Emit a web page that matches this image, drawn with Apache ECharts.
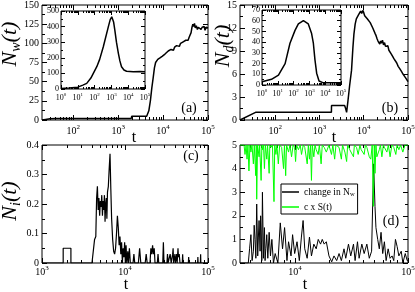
<!DOCTYPE html>
<html><head><meta charset="utf-8">
<script src="https://cdn.jsdelivr.net/npm/echarts@6/dist/echarts.min.js"></script>
<style>html,body{margin:0;padding:0;background:#fff}#c{width:415px;height:292px}</style>
</head><body><div id="c"></div>
<script>
// ---------------- data ----------------
const nwMain = [[20,0],[24,0.8],[30,1.5],[40,2],[100,2],[300,2],[1000,2],[1950,2],[2000,5],[3000,5],[4300,5],[4500,7],[4800,12],[5200,25],[5600,42],[6000,55],[6400,68],[6800,75],[7200,77],[7600,79],[8000,78],[8500,81],[9000,80],[9500,83],[10000,84],[10500,82],[11000,86],[11500,85],[12000,88],[13000,90],[14000,89],[15000,92],[16000,94],[17000,91],[18000,95],[19000,94],[20000,97],[21500,98],[23000,96],[24500,100],[26000,99],[28000,102],[30000,101],[32000,104],[34000,106],[36000,104],[38000,108],[40000,109],[42000,114],[44000,121],[46000,125],[48000,122],[50000,126],[52000,120],[55000,123],[58000,118],[61000,121],[64000,119],[67000,123],[70000,118],[74000,121],[78000,119],[82000,122],[86000,117],[90000,121],[95000,119],[100000,120]];
const nwInset = [[1,3],[3,6],[10,12],[20,25],[34,36],[60,70],[135,143],[200,190],[330,271],[660,400],[850,445],[1050,463],[1200,455],[1350,430],[1600,378],[2000,300],[2600,229],[3200,180],[4000,143],[5600,122],[8000,114],[20000,111],[50000,112],[100000,111]];
const ndMain = [[16,0],[36,1],[100,1],[1000,1],[1860,1],[1870,1.9],[3000,1.9],[3700,1.9],[3900,1.5],[4100,1.0],[4400,2.5],[4800,4.5],[5300,6.5],[5700,9.5],[6000,11.2],[6400,12.5],[6800,13.2],[7200,13.0],[7600,13.7],[8000,13.5],[8500,14.2],[9000,13.9],[9500,14.3],[10000,14.0],[10500,13.6],[11000,13.8],[12000,13.2],[13000,13.0],[14000,12.7],[15000,12.5],[16000,12.0],[17000,11.8],[18000,11.3],[19000,11.0],[20000,10.6],[21000,10.3],[22000,10.5],[23000,9.9],[24000,10.3],[25000,10.0],[26500,10.4],[28000,9.8],[29500,10.1],[31000,9.6],[33000,9.4],[35000,9.7],[37000,9.1],[39000,8.9],[42000,8.6],[45000,8.3],[48000,8.0],[52000,7.7],[56000,7.4],[60000,7.0],[65000,6.7],[70000,6.4],[75000,6.1],[80000,5.9],[86000,5.6],[93000,5.3],[100000,5.0]];
const ndInset = [[1,3],[4,5.3],[11,9.3],[29,20],[59,39],[123,51],[200,57],[417,60],[851,57],[1380,48],[1780,39],[2240,23.7],[2880,11],[4070,3.7],[7600,2],[20000,2],[100000,2]];
const niMain = [[1000,0],[1800,0],[1800,0.05],[2230,0.05],[2230,0],[4000,0],[4300,0.08],[4450,0.09],[4550,0.22],[4650,0.26],[4750,0.18],[4850,0.22],[4950,0.16],[5050,0.21],[5150,0.19],[5250,0.23],[5350,0.16],[5450,0.21],[5550,0.18],[5650,0.23],[5750,0.14],[5850,0.20],[5950,0.22],[6050,0.15],[6150,0.24],[6300,0.26],[6450,0.32],[6600,0.37],[6750,0.25],[6900,0.15],[7100,0.08],[7300,0.04],[7500,0.03],[7700,0.05],[7900,0.10],[8100,0.16],[8300,0.12],[8500,0.06],[8700,0.09],[8900,0.03],[9100,0.07],[9300,0.0],[9500,0.05],[9700,0.02],[9900,0.07],[10100,0.0],[10300,0.06],[10500,0.0],[10800,0.04],[11000,0.0],[11300,0.05],[11600,0.0],[12500,0],[12800,0.03],[13100,0],[14500,0],[15000,0.05],[15500,0],[17500,0],[18000,0.03],[18500,0],[20000,0],[20500,0.05],[21000,0.03],[21500,0.06],[22000,0.03],[22500,0.05],[23000,0],[24500,0],[25000,0.03],[25500,0],[28500,0],[29000,0.07],[29500,0],[32000,0],[32500,0.03],[33000,0],[34500,0],[35000,0.03],[35500,0.03],[36000,0],[37500,0.03],[38000,0.05],[38500,0],[40000,0.03],[40500,0],[42000,0.03],[42500,0],[43500,0.05],[44000,0.02],[45000,0.03],[46000,0],[49000,0],[49500,0.03],[50000,0],[58000,0],[58500,0.02],[59000,0],[75000,0],[75500,0.02],[76000,0],[81000,0],[81500,0.03],[82000,0],[100000,0]];
const dNw = [[3250,0],[3850,0],[3950,0.6],[4060,1.2],[4160,0.1],[4270,0.5],[4340,1.6],[4415,1.0],[4490,0.2],[4570,2.5],[4665,0.3],[4730,1.1],[4795,1.8],[4895,0.5],[4950,2.0],[5000,1.4],[5070,0.1],[5135,3.0],[5240,0.2],[5300,1.0],[5350,1.5],[5420,0.1],[5500,0.6],[5610,1.2],[5730,0.2],[5890,1.3],[6050,0.3],[6225,1.0],[6430,0],[6660,0.4],[7040,0],[7390,1.7],[7740,0.6],[8070,1.5],[8470,0.1],[8750,0.9],[9200,0.3],[9500,1.2],[9910,0.4],[10400,0.9],[10900,0.1],[11370,1.1],[11770,1.8],[12170,0.6],[12790,0.2],[13400,1.1],[13960,0.3],[14650,0.8],[15380,0.6],[16030,1.0],[16800,0.8],[17400,1.0],[18100,0.8],[18900,0.9],[19950,0.3],[21100,0.05],[22100,0.3],[23350,0.1],[24500,0.4],[25700,0.1],[27100,0.6],[28100,0.2],[29700,0.8],[31100,0.3],[32900,0.8],[34000,0.1],[35700,0.9],[36900,0.2],[39000,0.8],[40900,0.4],[43200,0.8],[45400,0.2],[47600,0.5],[49600,4.2],[51000,2.4],[52000,1.5],[53900,1.0],[55700,0.6],[57700,1.3],[59700,0.4],[61800,0.9],[64000,0.1],[66700,0.6],[69400,0.2],[72300,0.3],[74800,0.1],[77400,1.0],[80100,0.7],[83000,0.3],[87100,0.5],[90100,0.0],[94500,0.4],[98400,0.1],[100000,0.1]];
const dS = [[3250,5],[3530,5],[3600,4.6],[3680,5],[3750,4.4],[3820,5],[3900,3.9],[3980,5],[4060,4.7],[4150,5],[4270,4.2],[4350,5],[4480,3.7],[4530,5],[4570,2.7],[4650,5],[4795,4.5],[4850,5],[5000,3.5],[5080,5],[5135,4.8],[5250,5],[5350,4.0],[5450,5],[5610,4.4],[5700,5],[5890,3.8],[5970,5],[6100,4.9],[6300,5],[6500,2.6],[6600,5],[6760,4.6],[6900,5],[7100,4.2],[7300,5],[7600,4.9],[7900,4.0],[8050,5],[8250,3.7],[8400,5],[8750,4.7],[9000,5],[9300,4.5],[9600,5],[9900,4.9],[10100,4.3],[10300,5],[10700,4.8],[11100,5],[11400,4.6],[11800,5],[12170,4.9],[12800,4.2],[13100,5],[13400,4.4],[13700,5],[13960,3.5],[14200,5],[14650,4.5],[15000,5],[15380,4.8],[16000,4.6],[16400,5],[17000,4.2],[17400,5],[18100,4.9],[18900,4.7],[19950,5],[21000,4.6],[21600,5],[22400,4.4],[23000,5],[24500,4.9],[25700,4.4],[26300,5],[27600,4.7],[28600,4.3],[29200,5],[30500,4.8],[32900,4.5],[33500,5],[35000,4.9],[36200,4.6],[37500,5],[38500,4.8],[40900,4.6],[42000,5],[43200,4.9],[45400,4.5],[46800,4.4],[48200,5],[49300,2.4],[50300,5],[51000,3.8],[52000,5],[53000,4.5],[55700,4.8],[57000,5],[58700,4.5],[60500,5],[61800,4.9],[65000,4.7],[67000,5],[69400,4.5],[72000,5],[74800,4.9],[78000,4.6],[80000,5],[83000,4.8],[86000,5],[90000,4.7],[94000,5],[97000,5],[100000,5]];

// ---------------- helpers ----------------
const FONT = "'Liberation Serif','Times New Roman',serif";
const BLACK = '#000';
function decadeTicks(min, max) {
  const maj = [], mnr = [];
  for (let e = -1; e <= 6; e++) {
    const p = Math.pow(10, e);
    if (p >= min * 0.9999 && p <= max * 1.0001) maj.push(p);
    for (let m = 2; m <= 9; m++) { const v = m * p; if (v > min && v < max) mnr.push(v); }
  }
  return { maj, mnr };
}
function logAxes(g, min, max, o) {
  const t = decadeTicks(min, max);
  const base = { type: 'log', logBase: 10, gridIndex: g, min, max, splitLine: { show: false },
    axisLine: { show: false, onZero: false } };
  const lab = {
    show: true, customValues: t.maj, margin: o.margin, color: BLACK, fontFamily: FONT,
    formatter: v => '{b|10}{s|' + Math.round(Math.log10(v)) + '}',
    rich: { b: { fontSize: o.fs, lineHeight: o.fs + 2, verticalAlign: 'bottom', fontFamily: FONT, color: BLACK },
            s: { fontSize: o.fs - 3, lineHeight: o.fs - 2, verticalAlign: 'top', padding: [0, 0, 5, 0], fontFamily: FONT, color: BLACK } }
  };
  const tk = (vals, len) => ({ show: true, inside: true, length: len, customValues: vals, lineStyle: { color: BLACK, width: 1 } });
  return [
    Object.assign({}, base, { position: 'bottom', axisTick: tk(t.maj, o.maj), axisLabel: lab }),
    Object.assign({}, base, { position: 'bottom', axisTick: tk(t.mnr, o.mnr), axisLabel: { show: false } }),
    Object.assign({}, base, { position: 'top', axisTick: tk(t.maj, o.maj), axisLabel: { show: false } }),
    Object.assign({}, base, { position: 'top', axisTick: tk(t.mnr, o.mnr), axisLabel: { show: false } })
  ];
}
function valAxes(g, min, max, interval, o) {
  const base = { type: 'value', gridIndex: g, min, max, interval, splitLine: { show: false },
    axisLine: { show: false, onZero: false },
    axisTick: { show: true, inside: true, length: o.maj, lineStyle: { color: BLACK, width: 1 } },
    minorTick: { show: true, splitNumber: 2, length: o.mnr, lineStyle: { color: BLACK, width: 1 } },
    minorSplitLine: { show: false } };
  return [
    Object.assign({}, base, { position: 'left', axisLabel: { show: true, margin: o.margin, color: BLACK, fontFamily: FONT, fontSize: o.fs } }),
    Object.assign({}, base, { position: 'right', axisLabel: { show: false } })
  ];
}
const gridStyle = { show: true, borderColor: BLACK, borderWidth: 1, backgroundColor: 'transparent', containLabel: false, outerBoundsMode: 'none' };
const grids = [
  Object.assign({ left: 42, top: 5, width: 166, height: 115 }, gridStyle),   // 0 a
  Object.assign({ left: 240, top: 5, width: 168, height: 115 }, gridStyle),  // 1 b
  Object.assign({ left: 42, top: 145, width: 166, height: 118 }, gridStyle), // 2 c
  Object.assign({ left: 240, top: 145, width: 168, height: 118 }, gridStyle),// 3 d
  Object.assign({}, gridStyle, { left: 61, top: 11, width: 84, height: 78, backgroundColor: '#fff' }),  // 4 inset a
  Object.assign({}, gridStyle, { left: 262, top: 10, width: 79, height: 75, backgroundColor: '#fff' })  // 5 inset b
];
const mainX = { margin: 4, fs: 10, maj: 5, mnr: 3 };
const mainY = { margin: 3, fs: 10, maj: 5, mnr: 3 };
const insX = { margin: 3, fs: 8, maj: 4, mnr: 2 };
const insY = { margin: 2, fs: 8, maj: 4, mnr: 2 };
const xAxis = [].concat(
  logAxes(0, 20, 100000, mainX),
  logAxes(1, 16, 100000, mainX),
  logAxes(2, 1000, 100000, Object.assign({}, mainX, { margin: 2 })),
  logAxes(3, 3250, 100000, Object.assign({}, mainX, { margin: 2 })),
  logAxes(4, 1, 100000, insX),
  logAxes(5, 1, 100000, insX)
);
const yAxis = [].concat(
  valAxes(0, 0, 150, 25, mainY),
  valAxes(1, 0, 15, 3, mainY),
  valAxes(2, 0, 0.4, 0.1, mainY),
  valAxes(3, 0, 5, 1, mainY),
  valAxes(4, 0, 500, 100, insY),
  valAxes(5, 0, 70, 10, insY)
);
function line(name, data, gi, color, width) {
  return { type: 'line', name, data, xAxisIndex: gi * 4, yAxisIndex: gi * 2, symbol: 'none', showSymbol: false,
    lineStyle: { color, width }, itemStyle: { color }, clip: true, animation: false, silent: true };
}
function ytitle(x, y, sub) {
  return { type: 'text', x, y, rotation: Math.PI / 2, z: 100,
    style: { text: '{n|N}{s|' + sub + '}{p|(t)}', align: 'center', verticalAlign: 'middle',
      rich: { n: { fontSize: 22, fontStyle: 'italic', fontFamily: FONT, lineHeight: 26, verticalAlign: 'middle', fill: BLACK },
              s: { fontSize: 14, fontStyle: 'italic', fontFamily: FONT, lineHeight: 16, verticalAlign: 'bottom', fill: BLACK },
              p: { fontSize: 22, fontStyle: 'italic', fontFamily: FONT, lineHeight: 26, verticalAlign: 'middle', fill: BLACK } } } };
}
function txt(x, y, s, fs) {
  return { type: 'text', x, y, z: 100, style: { text: s, fontSize: fs, fontFamily: FONT, fill: BLACK, align: 'center', verticalAlign: 'middle' } };
}
const option = {
  animation: false,
  backgroundColor: '#fff',
  grid: grids,
  xAxis, yAxis,
  legend: {
    show: true, left: 281, top: 184, orient: 'vertical', padding: [3, 3, 2, 1], itemGap: 4,
    icon: 'rect', itemWidth: 17, itemHeight: 1.5, borderColor: BLACK, borderWidth: 1, borderRadius: 0, backgroundColor: '#fff',
    data: ['change in Nw', 'c x S(t)'],
    formatter: n => n === 'change in Nw' ? '{t|change in N}{s|w}' : '{t|c x S(t)}',
    textStyle: { fontFamily: FONT, fontSize: 9.5, color: BLACK,
      rich: { t: { fontFamily: FONT, fontSize: 9.5, color: BLACK, lineHeight: 12, verticalAlign: 'middle' },
              s: { fontFamily: FONT, fontSize: 6.5, color: BLACK, lineHeight: 8, verticalAlign: 'bottom' } } }
  },
  series: [
    line('Nw', nwMain, 0, BLACK, 1.5),
    line('Nd', ndMain, 1, BLACK, 1.5),
    line('Ni', niMain, 2, BLACK, 1.2),
    line('change in Nw', dNw, 3, BLACK, 1),
    line('c x S(t)', dS, 3, '#00ff00', 1),
    line('NwIn', nwInset, 4, BLACK, 1.5),
    line('NdIn', ndInset, 5, BLACK, 1.5)
  ],
  graphic: [
    ytitle(10, 44, 'w'),
    ytitle(223, 46, 'd'),
    ytitle(10, 201, 'i'),
    txt(134, 138, 't', 16), txt(334, 138, 't', 16), txt(126, 285, 't', 16), txt(305, 285, 't', 16),
    txt(189, 108, '(a)', 14), txt(390, 108, '(b)', 14), txt(191, 156, '(c)', 14), txt(391, 221, '(d)', 14)
  ]
};
const chart = echarts.init(document.getElementById('c'), null, { renderer: 'canvas' });
chart.setOption(option);
</script>
</body></html>
